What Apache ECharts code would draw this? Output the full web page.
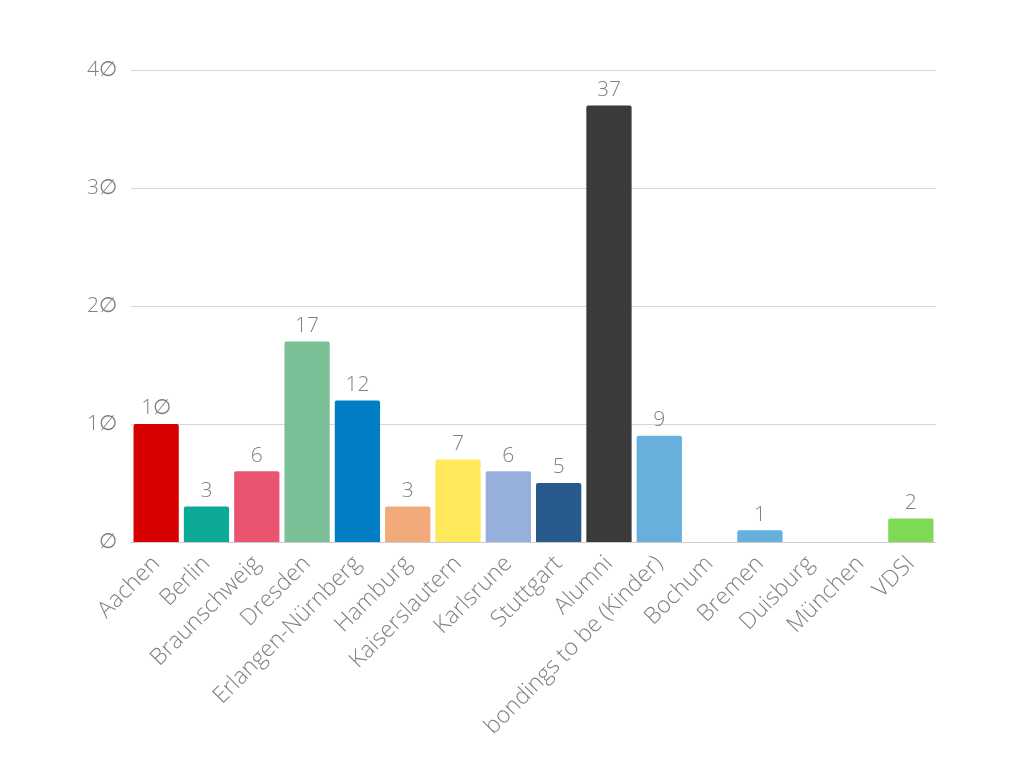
<!DOCTYPE html>
<html><head><meta charset="utf-8">
<script src="https://cdn.jsdelivr.net/npm/echarts@6/dist/echarts.min.js"></script>
<style>html,body{margin:0;padding:0;background:#fff}#c{width:1024px;height:768px}</style>
</head><body><div id="c"></div>
<script>
const categories = ["Aachen","Berlin","Braunschweig","Dresden","Erlangen-Nürnberg","Hamburg","Kaiserslautern","Karlsrune","Stuttgart","Alumni","bondings to be (Kinder)","Bochum","Bremen","Duisburg","München","VDSI"];
const values = [10,3,6,17,12,3,7,6,5,37,9,0,1,0,0,2];
const colors = ["#d90000","#0caa97","#eb5470","#7bbf96","#007fc6","#f3aa7a","#ffe95a","#96b0db","#27598b","#3b3b3b","#67b0dc","#67b0dc","#67b0dc","#67b0dc","#67b0dc","#7ed957"];
const yTicks = [0,10,20,30,40];
const font = "Open Sans";
const chart = echarts.init(document.getElementById('c'));
chart.setOption({
  animation:false,
  grid:{left:131,right:88,top:70,bottom:226,containLabel:false},
  xAxis:{type:'category',data:categories,
    axisLine:{lineStyle:{color:'#cccccc'}},axisTick:{show:false},
    axisLabel:{rotate:45,interval:0,color:'#808080',fontFamily:font,fontWeight:300,fontSize:23,margin:18}},
  yAxis:{type:'value',min:0,max:40,interval:10,
    axisLine:{show:false},axisTick:{show:false},
    splitLine:{lineStyle:{color:'#d6d6d6'}},
    axisLabel:{color:'#808080',fontFamily:font,fontWeight:300,fontSize:21,margin:14,formatter:v=>String(v).replace(/0/g,'∅')}},
  series:[{type:'bar',barCategoryGap:'10%',
    data:values.map((v,i)=>({value:v,itemStyle:{color:colors[i]},label:{show:v>0}})),
    itemStyle:{borderRadius:[2,2,0,0]},
    label:{position:'top',color:'#808080',fontFamily:font,fontWeight:300,fontSize:21,distance:5,formatter:p=>String(p.value).replace(/0/g,'∅')}}]
});
</script></body></html>
